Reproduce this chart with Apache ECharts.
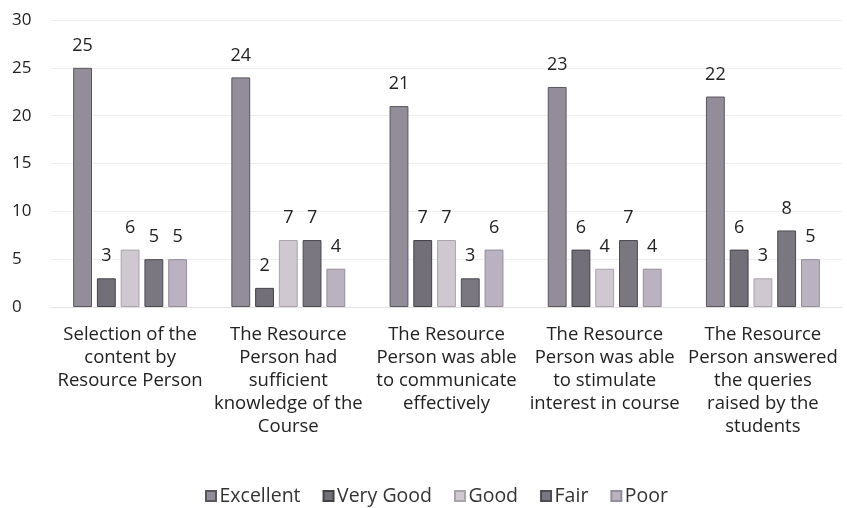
<!DOCTYPE html>
<html>
<head>
<meta charset="utf-8">
<script src="https://cdn.jsdelivr.net/npm/echarts@6/dist/echarts.min.js"></script>
<style>
  html, body { margin: 0; padding: 0; background: #ffffff; }
  #chart { width: 847px; height: 508px; }
</style>
</head>
<body>
<div id="chart"></div>
<script>
// Feedback categories (wrapped as they appear under the axis)
var categories = [
  "Selection of the\ncontent by\nResource Person",
  "The Resource\nPerson had\nsufficient\nknowledge of the\nCourse",
  "The Resource\nPerson was able\nto communicate\neffectively",
  "The Resource\nPerson was able\nto stimulate\ninterest in course",
  "The Resource\nPerson answered\nthe queries\nraised by the\nstudents"
];

// Rating counts per category
var excellent = [25, 24, 21, 23, 22];
var veryGood  = [3, 2, 7, 6, 6];
var good      = [6, 7, 7, 4, 3];
var fair      = [5, 7, 3, 7, 8];
var poor      = [5, 4, 6, 4, 5];

var seriesNames = ["Excellent", "Very Good", "Good", "Fair", "Poor"];
var seriesData = [excellent, veryGood, good, fair, poor];

var yTicks = { min: 0, max: 30, step: 5 };

var fills   = ["#928d99", "#726f79", "#cfc8d0", "#7a7781", "#bab1c1"];
var borders = ["#5a5660", "#434148", "#aaa3ab", "#4b4951", "#958c9c"];

var FONT = "Open Sans";

var series = seriesNames.map(function (name, i) {
  return {
    name: name,
    type: "bar",
    data: seriesData[i],
    barGap: "26%",
    barCategoryGap: "28%",
    itemStyle: { color: fills[i], borderColor: borders[i], borderWidth: 1 },
    label: {
      show: true,
      position: "top",
      distance: 13,
      color: "#222222",
      fontFamily: FONT,
      fontSize: 18
    }
  };
});

var chart = echarts.init(document.getElementById("chart"), null, { renderer: "canvas" });
chart.setOption({
  animation: false,
  backgroundColor: "#ffffff",
  grid: { left: 51, right: 5, top: 20, bottom: 201, containLabel: false },
  legend: {
    top: 486,
    left: 205,
    padding: 0,
    itemWidth: 10,
    itemHeight: 10,
    itemGap: 22,
    icon: "rect",
    textStyle: { fontFamily: FONT, fontSize: 19.5, color: "#333333", padding: [0, 0, 0, -1.5] },
    data: seriesNames
  },
  xAxis: {
    type: "category",
    data: categories,
    axisLine: { show: true, lineStyle: { color: "#e2e2e2" } },
    axisTick: { show: false },
    axisLabel: {
      interval: 0,
      margin: 16,
      fontFamily: FONT,
      fontSize: 18.5,
      lineHeight: 23,
      color: "#222222"
    }
  },
  yAxis: {
    type: "value",
    min: yTicks.min,
    max: yTicks.max,
    interval: yTicks.step,
    axisLine: { show: false },
    axisTick: { show: false },
    splitLine: { lineStyle: { color: "#eeeeee" } },
    axisLabel: {
      fontFamily: FONT,
      fontSize: 17,
      color: "#222222",
      align: "left",
      margin: 39
    }
  },
  series: series
});
</script>
</body>
</html>
